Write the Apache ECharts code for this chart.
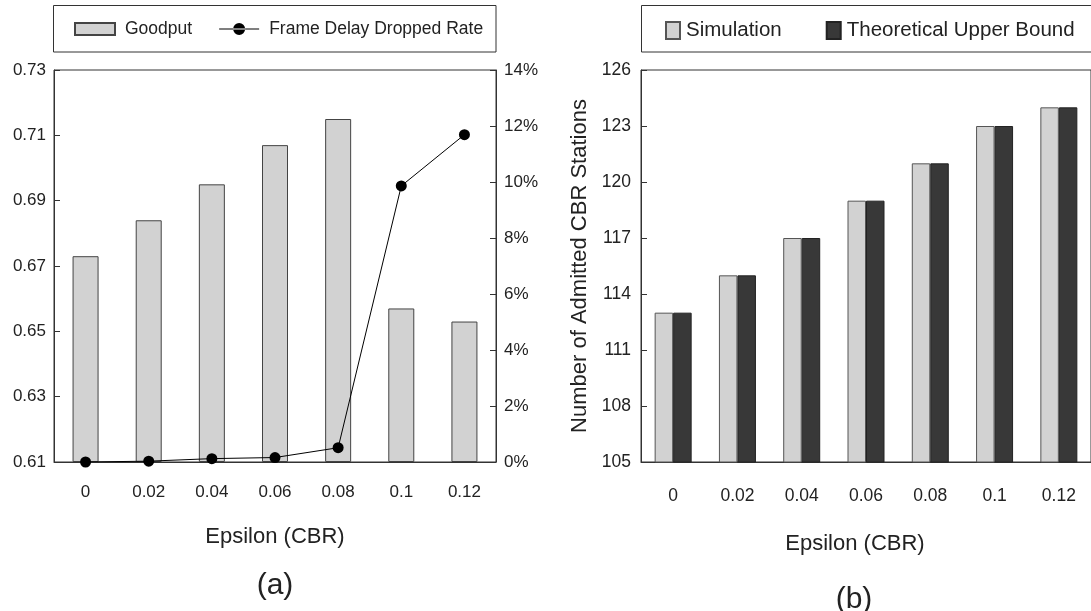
<!DOCTYPE html>
<html>
<head>
<meta charset="utf-8">
<script src="https://cdn.jsdelivr.net/npm/echarts@6/dist/echarts.min.js"></script>
<style>
  html, body { margin: 0; padding: 0; background: #fff; }
  #box { width: 1091px; height: 611px; }
</style>
</head>
<body>
<div id="box"></div>
<script>
var categories = ['0', '0.02', '0.04', '0.06', '0.08', '0.1', '0.12'];
// (a) goodput and dropped rate (%)
var goodput = [0.673, 0.684, 0.695, 0.707, 0.715, 0.657, 0.653];
var dropRate = [0, 0.03, 0.12, 0.16, 0.51, 9.86, 11.69];
var goodputBase = 0.61; // axis starts at 0.61
// (b) admitted CBR stations
var simulation = [113, 115, 117, 119, 121, 123, 124];
var upperBound = [113, 115, 117, 119, 121, 123, 124];

window.onload = function () {
    var myChart = echarts.init(document.getElementById('box'));
    var font = 'Liberation Sans';
    var ink = '#222';
    var lineCol = '#333';
    // line + dot legend icon
    var dotLine = 'path://M0,5.6L40,5.6L40,6.4L0,6.4Z M14,6A6,6,0,1,0,26,6A6,6,0,1,0,14,6Z';

    function catAxis(grid, gap, labelMargin, namePad) {
        return {
            gridIndex: grid,
            type: 'category',
            data: categories,
            axisLine: { lineStyle: { color: lineCol, width: 1 } },
            axisTick: { inside: true, length: 6, lineStyle: { color: lineCol } },
            axisLabel: { margin: labelMargin, fontSize: 17, color: ink, fontFamily: font },
            name: 'Epsilon (CBR)',
            nameLocation: 'middle',
            nameGap: gap,
            nameTextStyle: { fontSize: 22, color: ink, fontFamily: font, padding: namePad }
        };
    }

    function valAxis(grid, min, max, interval, fmt, pos) {
        return {
            gridIndex: grid,
            type: 'value',
            position: pos,
            min: min,
            max: max,
            interval: interval,
            splitLine: { show: false },
            axisLine: { show: true, lineStyle: { color: lineCol, width: 1 } },
            axisTick: { show: true, inside: true, length: 6, lineStyle: { color: lineCol } },
            axisLabel: { formatter: fmt, margin: 8, fontSize: 17, color: ink, fontFamily: font }
        };
    }

    var yStations = valAxis(1, 105, 126, 3, '{value}', 'left');
    yStations.axisLabel.margin = 10;
    yStations.axisLabel.fontSize = 17.5;
    yStations.name = 'Number of Admitted CBR Stations';
    yStations.nameLocation = 'middle';
    yStations.nameGap = 50;
    yStations.nameTextStyle = { fontSize: 22, color: ink, fontFamily: font };

    var xStations = catAxis(1, 71, 25, [0, 22, 0, 0]);
    xStations.axisLabel.fontSize = 17.5;

    var option = {
        animation: false,
        textStyle: { fontFamily: font },
        grid: [
            { left: 54, top: 70, width: 442, height: 392, show: true, borderColor: lineCol, borderWidth: 1 },
            { left: 641, top: 70, width: 454, height: 392, show: true, borderColor: lineCol, borderWidth: 1 }
        ],
        legend: [{
            data: [
                { name: 'Goodput', icon: 'rect' },
                { name: 'Frame Delay Dropped Rate', icon: dotLine }
            ],
            left: 74,
            top: 20,
            padding: 0,
            itemWidth: 40,
            itemHeight: 12,
            itemGap: 27,
            textStyle: { fontSize: 17.5, color: ink, fontFamily: font, padding: [0, 0, 0, 5] }
        }, {
            data: [
                { name: 'Simulation', icon: 'rect' },
                { name: 'Theoretical Upper Bound', icon: 'rect' }
            ],
            left: 665,
            top: 20,
            padding: 0,
            itemWidth: 14,
            itemHeight: 17,
            itemGap: 44,
            textStyle: { fontSize: 20.5, color: ink, fontFamily: font, padding: [0, 0, 0, 1] }
        }],
        xAxis: [
            catAxis(0, 64, 22, 0),
            xStations
        ],
        yAxis: [
            valAxis(0, 0, 0.12, 0.02, function (v) { return (v + goodputBase).toFixed(2); }, 'left'),
            valAxis(0, 0, 14, 2, '{value}%', 'right'),
            yStations
        ],
        graphic: [
            { type: 'rect', shape: { x: 53.5, y: 5.5, width: 442.5, height: 46.5 },
              style: { fill: 'none', stroke: lineCol, lineWidth: 1 } },
            { type: 'rect', shape: { x: 641.5, y: 5.5, width: 470, height: 46.5 },
              style: { fill: 'none', stroke: lineCol, lineWidth: 1 } },
            { type: 'text', x: 275, y: 571,
              style: { text: '(a)', fill: ink, font: '30px "Liberation Sans"', textAlign: 'center' } },
            { type: 'text', x: 854, y: 585,
              style: { text: '(b)', fill: ink, font: '30px "Liberation Sans"', textAlign: 'center' } }
        ],
        series: [{
            name: 'Goodput',
            type: 'bar',
            xAxisIndex: 0,
            yAxisIndex: 0,
            barWidth: 26,
            itemStyle: { color: '#d2d2d2', borderColor: '#444', borderWidth: 1 },
            data: goodput.map(function (v) { return +(v - goodputBase).toFixed(4); })
        }, {
            name: 'Frame Delay Dropped Rate',
            type: 'line',
            xAxisIndex: 0,
            yAxisIndex: 1,
            symbol: 'circle',
            symbolSize: 11,
            itemStyle: { color: '#000' },
            lineStyle: { color: '#000', width: 1 },
            data: dropRate
        }, {
            name: 'Simulation',
            type: 'bar',
            xAxisIndex: 1,
            yAxisIndex: 2,
            barWidth: 18.5,
            barGap: '0%',
            itemStyle: { color: '#d2d2d2', borderColor: '#555', borderWidth: 1 },
            data: simulation
        }, {
            name: 'Theoretical Upper Bound',
            type: 'bar',
            xAxisIndex: 1,
            yAxisIndex: 2,
            barWidth: 18.5,
            barGap: '0%',
            itemStyle: { color: '#383838', borderColor: '#222', borderWidth: 1 },
            data: upperBound
        }]
    };
    myChart.setOption(option);
    window.addEventListener('resize', function () {
        myChart.resize();
    });
};
</script>
</body>
</html>
